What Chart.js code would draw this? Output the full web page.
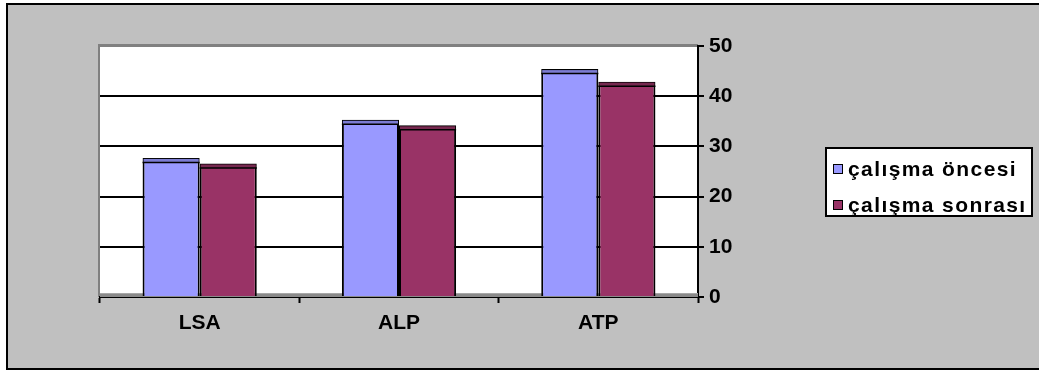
<!DOCTYPE html>
<html>
<head>
<meta charset="utf-8">
<script src="https://cdn.jsdelivr.net/npm/chart.js@4.4.1/dist/chart.umd.min.js"></script>
<style>
  html, body { margin: 0; padding: 0; background: #ffffff; }
  #wrap { width: 1039px; height: 372px; }
</style>
</head>
<body>
<div id="wrap"><canvas id="c" width="1039" height="372"></canvas></div>
<script>
// Categories, series and tick values
const categories = ['LSA', 'ALP', 'ATP'];
const seriesNames = ['çalışma öncesi', 'çalışma sonrası'];
const oncesi = [27.7, 35.3, 45.4];
const sonrasi = [26.6, 34.2, 42.9];
const yTicks = [0, 10, 20, 30, 40, 50];

const seriesColors = ['#9999FF', '#993366'];
const capColors = ['#7C7CD2', '#76284F'];
const FONT = "'Liberation Sans', Arial, sans-serif";

// Grey chart frame, white plot wall and the dark floor strip
const framePlugin = {
  id: 'frame',
  beforeDraw(chart) {
    const ctx = chart.ctx;
    const a = chart.chartArea;
    ctx.save();
    ctx.fillStyle = '#ffffff';
    ctx.fillRect(0, 0, chart.width, chart.height);
    ctx.fillStyle = '#C0C0C0';
    ctx.fillRect(7, 4, chart.width, 365);
    ctx.strokeStyle = '#000000';
    ctx.lineWidth = 2;
    ctx.strokeRect(7, 4, chart.width + 10, 365);
    // plot wall
    ctx.fillStyle = '#ffffff';
    ctx.fillRect(a.left, a.top - 2, a.right - a.left, a.bottom - a.top + 2);
    ctx.strokeStyle = '#808080';
    ctx.lineWidth = 2;
    ctx.beginPath();
    ctx.moveTo(a.left - 1, a.bottom);
    ctx.lineTo(a.left - 1, a.top - 1);
    ctx.lineTo(a.right, a.top - 1);
    ctx.stroke();
    ctx.restore();
  },
  beforeDatasetsDraw(chart) {
    const ctx = chart.ctx;
    const a = chart.chartArea;
    ctx.save();
    ctx.fillStyle = '#8A8A8A';
    ctx.fillRect(a.left, a.bottom - 4, a.right - a.left, 4);
    ctx.fillStyle = '#A8A8A8';
    ctx.fillRect(a.left, a.bottom - 4, a.right - a.left, 1);
    ctx.restore();
  }
};

// Shaded top face on each column
const capPlugin = {
  id: 'caps',
  afterDatasetsDraw(chart) {
    const ctx = chart.ctx;
    ctx.save();
    chart.data.datasets.forEach((ds, di) => {
      const meta = chart.getDatasetMeta(di);
      meta.data.forEach(bar => {
        const p = bar.getProps(['x', 'y', 'width'], true);
        const left = p.x - p.width / 2;
        ctx.fillStyle = capColors[di];
        ctx.fillRect(left + 1, p.y + 1, p.width - 2, 3.5);
        ctx.strokeStyle = '#000000';
        ctx.lineWidth = 1.5;
        ctx.beginPath();
        ctx.moveTo(left, p.y + 4.5);
        ctx.lineTo(left + p.width, p.y + 4.5);
        ctx.stroke();
      });
    });
    ctx.restore();
  }
};

// Boxed legend on the right
const legendBoxPlugin = {
  id: 'legendBox',
  afterDraw(chart) {
    const ctx = chart.ctx;
    const bx = 826, by = 148, bw = 206, bh = 68;
    ctx.save();
    ctx.fillStyle = '#ffffff';
    ctx.fillRect(bx, by, bw, bh);
    ctx.strokeStyle = '#000000';
    ctx.lineWidth = 2;
    ctx.strokeRect(bx, by, bw, bh);
    const rows = [169, 205];
    chart.data.datasets.forEach((ds, i) => {
      const cy = rows[i];
      ctx.fillStyle = ds.backgroundColor;
      ctx.fillRect(833, cy - 5, 10, 10);
      ctx.strokeStyle = '#000000';
      ctx.lineWidth = 1;
      ctx.strokeRect(833.5, cy - 4.5, 9, 9);
      ctx.fillStyle = '#000000';
      ctx.font = 'bold 21px ' + FONT;
      ctx.textBaseline = 'middle';
      ctx.textAlign = 'left';
      if ('letterSpacing' in ctx) ctx.letterSpacing = '1.4px';
      ctx.fillText(ds.label, 848, cy + 1);
    });
    ctx.restore();
  }
};

new Chart(document.getElementById('c'), {
  type: 'bar',
  data: {
    labels: categories,
    datasets: [
      { label: seriesNames[0], data: oncesi, backgroundColor: seriesColors[0] },
      { label: seriesNames[1], data: sonrasi, backgroundColor: seriesColors[1] }
    ]
  },
  options: {
    responsive: false,
    animation: false,
    devicePixelRatio: 1,
    layout: { padding: { left: 100, top: 46, right: 281, bottom: 35 } },
    datasets: {
      bar: {
        borderColor: '#000000',
        borderWidth: 2,
        barPercentage: 1,
        categoryPercentage: 0.573
      }
    },
    plugins: {
      legend: { display: false },
      tooltip: { enabled: false }
    },
    scales: {
      x: {
        offset: true,
        grid: {
          offset: true,
          drawOnChartArea: false,
          drawTicks: true,
          tickLength: 6,
          tickColor: '#000000',
          tickWidth: 2
        },
        border: { display: true, color: '#000000', width: 2 },
        ticks: {
          color: '#000000',
          padding: 8,
          font: { family: FONT, size: 21, weight: 'bold' }
        },
        afterFit(scale) { scale.height = 40; }
      },
      y: {
        position: 'right',
        min: 0,
        max: 50,
        afterBuildTicks(scale) { scale.ticks = yTicks.map(v => ({ value: v })); },
        grid: {
          color: c => (c.tick && c.tick.value === 0) ? 'rgba(0,0,0,0)'
                    : (c.tick && c.tick.value === 50) ? '#808080' : '#000000',
          lineWidth: 2,
          drawTicks: true,
          tickLength: 6,
          tickColor: '#000000',
          tickWidth: 2
        },
        border: { display: true, color: '#000000', width: 2 },
        ticks: {
          color: '#000000',
          padding: 5,
          font: { family: FONT, size: 21, weight: 'bold' }
        },
        afterFit(scale) { scale.width = 60; }
      }
    }
  },
  plugins: [framePlugin, capPlugin, legendBoxPlugin]
});
</script>
</body>
</html>
